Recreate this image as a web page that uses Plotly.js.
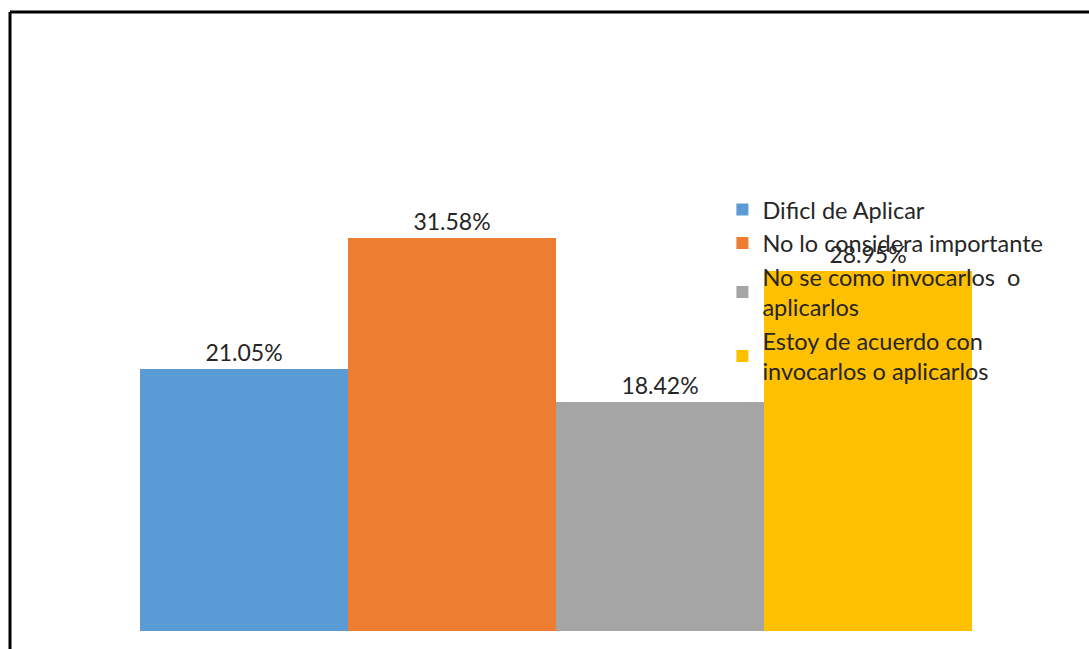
<!DOCTYPE html>
<html>
<head>
<meta charset="utf-8">
<script src="https://cdn.plot.ly/plotly-3.0.1.min.js"></script>
<style>
  html, body { margin: 0; padding: 0; background: #fff; }
  #chart { width: 1089px; height: 649px; }
</style>
</head>
<body>
<div id="chart"></div>
<script>
const categoria = [""];
const nombres = [
	"Dificl de Aplicar",
	"No lo considera importante",
	"No se como invocarlos  o<br>aplicarlos",
	"Estoy de acuerdo con<br>invocarlos o aplicarlos",
];
const valores = [21.05, 31.58, 18.42, 28.95];
const etiquetas = ["21.05%", "31.58%", "18.42%", "28.95%"];
const colores = ["#5b9bd5", "#ed7d31", "#a5a5a5", "#ffc000"];

const fuente = "Lato, 'Open Sans', sans-serif";

const data = valores.map((v, i) => ({
	type: "bar",
	name: nombres[i],
	x: categoria,
	y: [v],
	text: [etiquetas[i]],
	textposition: "outside",
	cliponaxis: false,
	textfont: { family: fuente, size: 23, color: "#262626" },
	marker: { color: colores[i] },
	hoverinfo: "name+y",
}));

const layout = {
	width: 1089,
	height: 649,
	margin: { l: 140, r: 117, t: 133, b: 18 },
	paper_bgcolor: "#ffffff",
	plot_bgcolor: "#ffffff",
	barmode: "group",
	bargap: 0,
	bargroupgap: 0,
	showlegend: true,
	legend: {
		x: 0.7,
		xanchor: "left",
		y: 0.89,
		yanchor: "top",
		yref: "paper",
		bgcolor: "rgba(0,0,0,0)",
		font: { family: fuente, size: 23.5, color: "#262626" },
		valign: "middle",
	},
	xaxis: { visible: false, range: [-0.5, 0.5] },
	yaxis: { visible: false, range: [0, 40] },
	shapes: [
		{
			type: "line", xref: "paper", yref: "paper",
			x0: -130 / 832, x1: 1.2, y0: 1 + 121 / 498, y1: 1 + 121 / 498,
			line: { color: "#000", width: 3 },
		},
		{
			type: "line", xref: "paper", yref: "paper",
			x0: -130 / 832, x1: -130 / 832, y0: 1 + 121 / 498, y1: -0.1,
			line: { color: "#000", width: 3 },
		},
	],
	font: { family: fuente },
};

Plotly.newPlot("chart", data, layout, { displayModeBar: false, staticPlot: true });
</script>
</body>
</html>
